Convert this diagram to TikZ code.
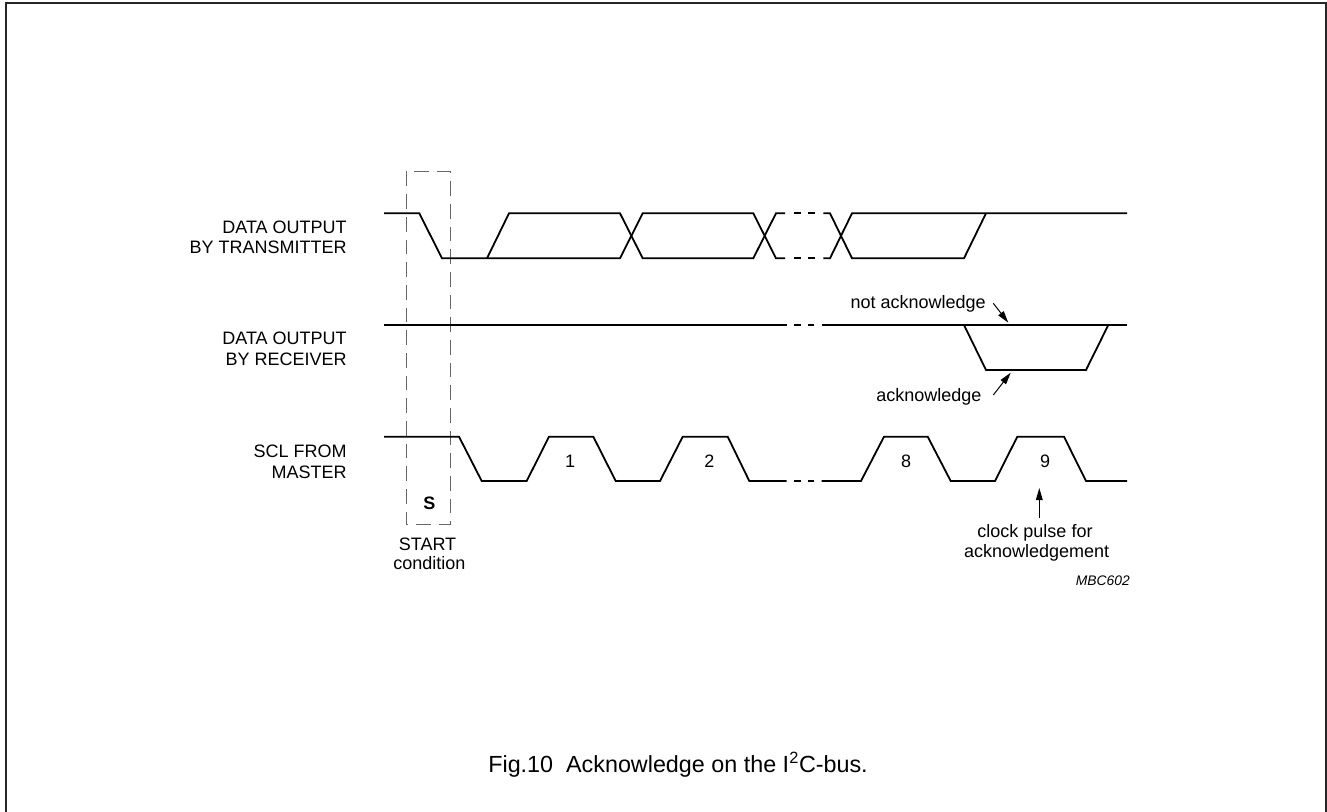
\documentclass[tikz,border=0pt]{standalone}
\usepackage{fontspec}
\setmainfont{Liberation Sans}
\usetikzlibrary{arrows.meta}
\begin{document}
\begin{tikzpicture}[x=0.75pt,y=-0.75pt,
  wave/.style={line width=1.35pt, line join=miter, line cap=butt},
  sbox/.style={draw=black!60, line width=0.75pt, dash pattern=on 11pt off 6pt},
  lbl/.style={inner sep=0pt, font=\fontsize{13.5}{15.5}\selectfont},
  small/.style={inner sep=0pt, font=\fontsize{10.4}{12}\selectfont\itshape},
  capt/.style={inner sep=0pt, font=\fontsize{17.5}{20}\selectfont},
  ptr/.style={line width=0.75pt, -{Triangle[length=9pt,width=5pt]}},
  frm/.style={draw=black!85, line width=1.3pt}]
\useasboundingbox (0,0) rectangle (1327,812);
% frame
\draw[frm] (6,812) -- (6,3) -- (1326,3) -- (1326,812);

% START condition box
\draw[sbox] (406,171.7) rectangle (450.3,524.3);

% labels
\node[lbl, anchor=base east] (t1) at (347,233.3) {DATA OUTPUT};
\node[lbl, anchor=base east] (t2) at (347,254) {BY TRANSMITTER};
\node[lbl, anchor=base east] (r1) at (347,345) {DATA OUTPUT};
\node[lbl, anchor=base east] (r2) at (347,365.5) {BY RECEIVER};
\node[lbl, anchor=base east] (c1) at (347,457.7) {SCL FROM};
\node[lbl, anchor=base east] (c2) at (347,478.3) {MASTER};

% transmitter waveform (H=213.3, L=258.3)
\draw[wave] (384,213.3) -- (419.3,213.3) -- (442,258.3) -- (620,258.3) -- (642.7,213.3) -- (753.3,213.3) -- (776,258.3) -- (785,258.3);
\draw[wave] (487,258.3) -- (509,213.3) -- (620,213.3) -- (642.7,258.3) -- (753.3,258.3) -- (776,213.3) -- (785,213.3);
\foreach \y in {213.3,258.3}{
  \draw[wave] (794.3,\y) -- (801,\y);
  \draw[wave] (808.3,\y) -- (815,\y);
}
\draw[wave] (823.3,213.3) -- (830,213.3) -- (852,258.3) -- (964,258.3) -- (986,213.3);
\draw[wave] (823.3,258.3) -- (830,258.3) -- (852,213.3) -- (1127,213.3);

% receiver waveform
\draw[wave] (384,325) -- (786.7,325);
\draw[wave] (794.3,325) -- (800.7,325);
\draw[wave] (807.7,325) -- (814,325);
\draw[wave] (821.7,325) -- (1127,325);
\draw[wave] (964,325) -- (986,370) -- (1086,370) -- (1108.3,325);

% SCL waveform (H=436.7, L=481)
\draw[wave] (384,436.7) -- (459,436.7) -- (481.7,481) -- (526.7,481) -- (549,436.7) -- (593.3,436.7) -- (615.7,481) -- (660,481) -- (682.7,436.7) -- (727.7,436.7) -- (749.3,481) -- (786.7,481);
\draw[wave] (794.3,481) -- (800.7,481);
\draw[wave] (807.7,481) -- (814,481);
\draw[wave] (821.7,481) -- (861,481) -- (884,436.7) -- (927.7,436.7) -- (950.7,481) -- (995,481) -- (1017.3,436.7) -- (1064,436.7) -- (1086,481) -- (1127,481);

% pulse numbers
\node[lbl, anchor=base] (n1) at (570,467.3) {1};
\node[lbl, anchor=base] (n2) at (709.3,467.3) {2};
\node[lbl, anchor=base] (n8) at (906,467.3) {8};
\node[lbl, anchor=base] (n9) at (1045,467.3) {9};

% S and START condition
\node[lbl, anchor=base, font=\fontsize{13.5}{15.5}\selectfont\bfseries] (s) at (429.3,509) {S};
\node[lbl, anchor=base] (st1) at (427.5,550) {START};
\node[lbl, anchor=base] (st2) at (429.3,569.3) {condition};

% acknowledge labels
\node[lbl, anchor=base east] (nack) at (986,308.3) {not acknowledge};
\node[lbl, anchor=base east] (ack) at (981.7,401.7) {acknowledge};
\coordinate (nackT) at (993.3,303.3);
\coordinate (nackH) at (1008.3,322.7);
\coordinate (ackT) at (993.3,395);
\coordinate (ackH) at (1010.7,372.7);
\draw[ptr] (nackT) -- (nackH);
\draw[ptr] (ackT) -- (ackH);

% clock pulse for acknowledgement
\node[lbl, anchor=base] (cp1) at (1035,537.3) {clock pulse for};
\node[lbl, anchor=base] (cp2) at (1036.7,557.3) {acknowledgement};
\coordinate (cpT) at (1039.3,518.3);
\coordinate (cpH) at (1039.3,488);
\draw[ptr] (cpT) -- (cpH);

\node[small, anchor=base east] (mbc) at (1130,585.7) {MBC602};

% caption
\node[capt, anchor=base east] (caption) at (868,772) {Fig.10\ \ Acknowledge on the I\textsuperscript{2}C-bus.};
\end{tikzpicture}
\end{document}
